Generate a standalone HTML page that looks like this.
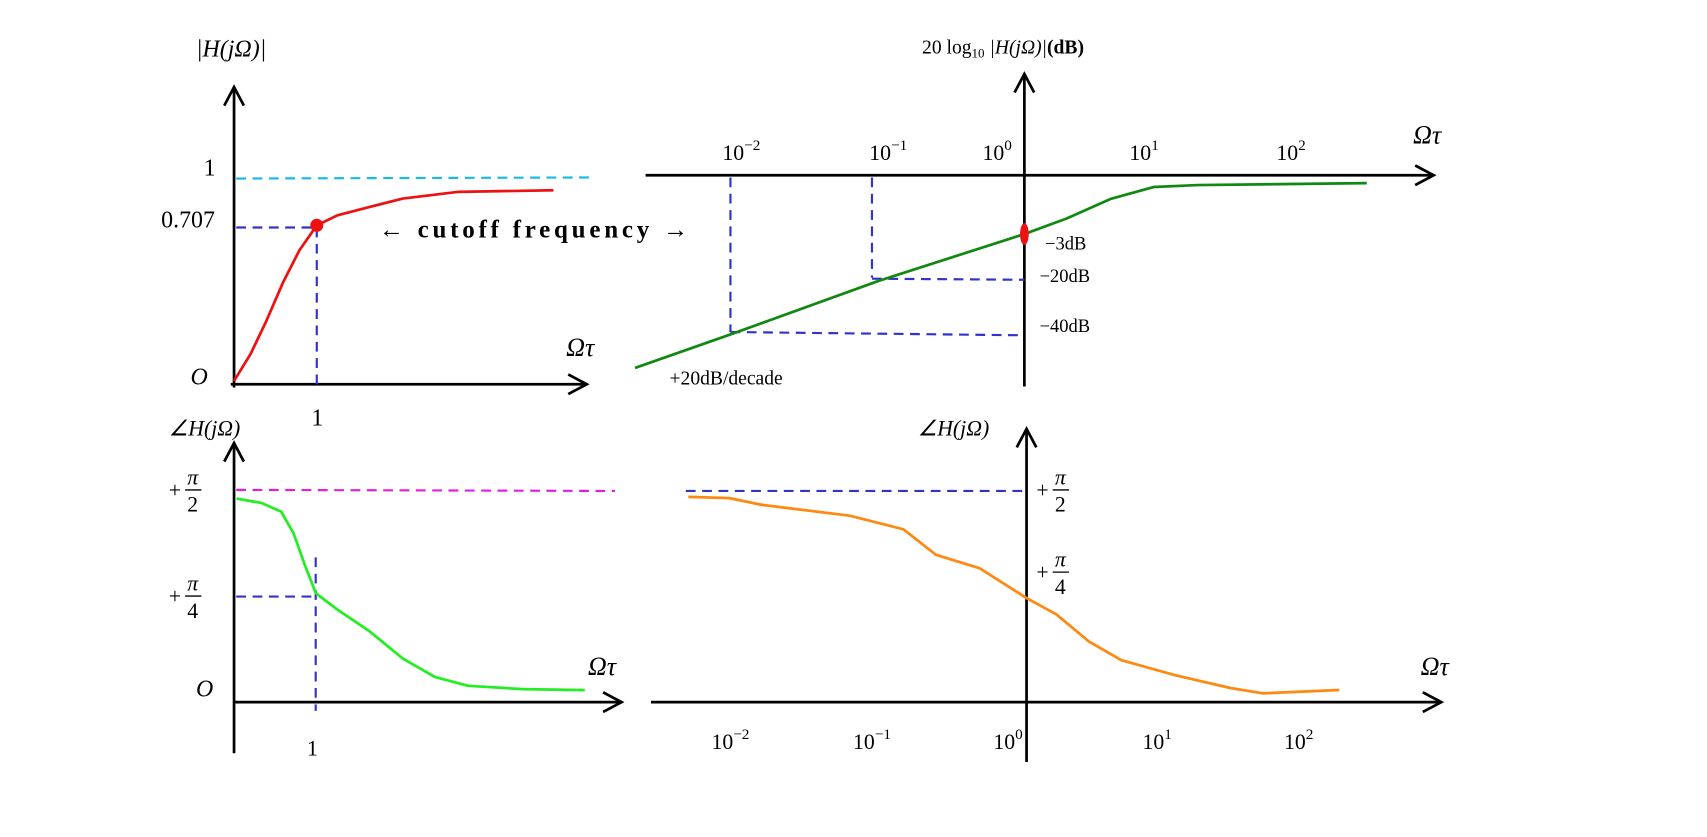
<!DOCTYPE html>
<html><head><meta charset="utf-8">
<style>
html,body{margin:0;padding:0;background:#fff;}
svg{display:block;font-family:"Liberation Serif",serif;}
</style></head>
<body>
<svg id="chart" width="1707" height="837" viewBox="0 0 1707 837">
<g transform="scale(1.0886)">
<g fill="none" stroke="#000" stroke-width="2.5">
  <line x1="215" y1="356" x2="215" y2="80"/>
  <polyline points="206,97 215,80 224,97"/>
  <line x1="212" y1="353" x2="538" y2="353"/>
  <polyline points="522,344 539,353 522,362"/>
  <line x1="941" y1="355" x2="941" y2="68"/>
  <polyline points="932,85 941,68 950,85"/>
  <line x1="593" y1="161" x2="1316" y2="161"/>
  <polyline points="1300,152 1317,161 1300,170"/>
  <line x1="215" y1="692" x2="215" y2="407"/>
  <polyline points="206,424 215,407 224,424"/>
  <line x1="215" y1="645" x2="570" y2="645"/>
  <polyline points="554,636 571,645 554,654"/>
  <line x1="943" y1="700" x2="943" y2="394"/>
  <polyline points="934,411 943,394 952,411"/>
  <line x1="598" y1="645" x2="1323" y2="645"/>
  <polyline points="1307,636 1324,645 1307,654"/>
</g>

<g stroke-width="2" stroke-dasharray="9,6" fill="none">
  <line x1="217" y1="164" x2="545" y2="163" stroke="#1ab8e8"/>
  <line x1="217" y1="209" x2="290" y2="209" stroke="#3333cc"/>
  <line x1="291" y1="209" x2="291" y2="353" stroke="#3333cc"/>
  <line x1="671" y1="163" x2="671" y2="305" stroke="#3333cc"/>
  <line x1="671" y1="305" x2="941" y2="308" stroke="#3333cc"/>
  <line x1="801" y1="163" x2="801" y2="255" stroke="#3333cc"/>
  <line x1="801" y1="256" x2="941" y2="257" stroke="#3333cc"/>
  <line x1="217" y1="450" x2="565" y2="451" stroke="#e020e0"/>
  <line x1="217" y1="548" x2="290" y2="548" stroke="#3333cc"/>
  <line x1="290" y1="512" x2="290" y2="653" stroke="#3333cc"/>
  <line x1="630" y1="451" x2="943" y2="451" stroke="#3333cc"/>
</g>

<g id="curves" fill="none" stroke-width="2.5" stroke-linejoin="round"></g>

<g fill="#000" font-size="22">
  <text x="180" y="52" font-style="italic">|H(jΩ)|</text>
  <text x="187" y="161">1</text>
  <text x="148" y="209">0.707</text>
  <text x="175" y="353" font-style="italic">O</text>
  <text x="520" y="327" font-size="24" font-style="italic">Ωτ</text>
  <text x="286" y="391">1</text>
  <text x="348" y="218" font-size="23" font-weight="bold" textLength="284" lengthAdjust="spacing">← cutoff frequency →</text>

  <text x="847" y="49" font-size="18">20 log<tspan font-size="12" dy="4">10</tspan><tspan dy="-4" font-style="italic"> |H(jΩ)|</tspan><tspan font-weight="bold">(dB)</tspan></text>
  <text x="1298" y="132" font-size="24" font-style="italic">Ωτ</text>
  <text x="960" y="229" font-size="17">−3dB</text>
  <text x="955" y="259" font-size="17">−20dB</text>
  <text x="955" y="305" font-size="17">−40dB</text>
  <text x="615" y="353" font-size="18">+20dB/decade</text>

  <text x="155" y="400" font-size="20" font-style="italic">∠H(jΩ)</text>
  <text x="180" y="640" font-style="italic">O</text>
  <text x="540" y="620" font-size="24" font-style="italic">Ωτ</text>
  <text x="282" y="694" font-size="20">1</text>
  <text x="843" y="400" font-size="20" font-style="italic">∠H(jΩ)</text>
  <text x="1305" y="620" font-size="24" font-style="italic">Ωτ</text>
</g>
<g id="fracs" font-size="20"></g>
<g id="ticks" font-size="20"></g>
</g>
</svg>
<script>
// ---- data ----
const magX = [0, 0.2, 0.39, 0.59, 0.79, 1.0, 1.25, 1.64, 2.04, 2.7, 3.86];
const magY = [0.015, 0.137, 0.285, 0.457, 0.604, 0.72, 0.78, 0.83, 0.88, 0.92, 0.93];
const dbLogX = [-2.65, -2, -1, 0, 0.29, 0.59, 0.88, 1.18, 2.33];
const dbY = [-55, -41, -21, -3, -2.2, -1.2, -0.6, -0.5, -0.4];
const phX = [0.03, 0.33, 0.57, 0.72, 0.86, 0.99, 1.25, 1.64, 2.04, 2.43, 2.83, 3.49, 4.24];
const phY = [1.507, 1.475, 1.41, 1.249, 1.007, 0.806, 0.685, 0.524, 0.322, 0.185, 0.121, 0.097, 0.089];
const phLogX = [-2.39, -2.10, -1.87, -1.25, -0.87, -0.64, -0.33, 0, 0.21, 0.44, 0.67, 1.05, 1.44, 1.67, 2.21];
const phLogY = [1.52, 1.51, 1.46, 1.38, 1.28, 1.09, 0.99, 0.77, 0.65, 0.45, 0.31, 0.20, 0.105, 0.065, 0.09];
const decadeExps = [-2, -1, 0, 1, 2];

// ---- axis functions ----
function piece(v, dom, rng){
  for(let i=0;i<dom.length-1;i++){
    const a=dom[i],b=dom[i+1];
    if((v>=Math.min(a,b)&&v<=Math.max(a,b))||i===dom.length-2||(i===0&&(a<b?v<a:v>a))){
      return rng[i]+(v-a)/(b-a)*(rng[i+1]-rng[i]);
    }
  }
}
const xLin = v => 215 + v*76;
const yMag = v => piece(v,[0,0.707,1],[353,209,164]);
const xDb = v => 941 + v*135;
const yDb = v => piece(v,[0,-3,-20,-40,-55],[161,215,256,305,338]);
const yPh = v => 645 - v*124.1;
const xPhLog = v => 943 + v*130;

const NS='http://www.w3.org/2000/svg';
const curves=document.getElementById('curves');
function poly(xs,ys,fx,fy,color,name){
  const p=document.createElementNS(NS,'polyline');
  p.setAttribute('points',xs.map((x,i)=>fx(x).toFixed(1)+','+fy(ys[i]).toFixed(1)).join(' '));
  p.setAttribute('stroke',color);
  
  
  curves.appendChild(p);
}
poly(magX,magY,xLin,yMag,'#ee1111','magnitude-linear-curve');
poly(dbLogX,dbY,xDb,yDb,'#118811','magnitude-db-curve');
poly(phX,phY,xLin,yPh,'#22ee22','phase-linear-curve');
poly(phLogX,phLogY,xPhLog,yPh,'#ff8811','phase-log-curve');

[[xLin(1),yMag(0.72)],[xDb(0),yDb(-3)]].forEach((c,i)=>{
  const e=document.createElementNS(NS,'ellipse');
  e.setAttribute('cx',c[0]);e.setAttribute('cy',c[1]);
  e.setAttribute('rx',i?4:6);e.setAttribute('ry',i?10:6);
  e.setAttribute('fill','#ee1111');
  
  
  curves.appendChild(e);
});

const ticks=document.getElementById('ticks');
function decLabel(x,y,e){
  const t=document.createElementNS(NS,'text');
  t.setAttribute('x',x);t.setAttribute('y',y);
  t.setAttribute('text-anchor','middle');
  t.innerHTML='10<tspan font-size="14" dy="-9">'+(e<0?'−'+(-e):e)+'</tspan>';
  
  
  ticks.appendChild(t);
}
decadeExps.forEach(e=>{
  decLabel(xDb(e)+(e===0?-25:e>0?-25:10),147,e);
  decLabel(xPhLog(e)+(e===0?-17:e>0?-10:-12),688,e);
});

const fr=document.getElementById('fracs');
function frac(x,y,den){
  const g=document.createElementNS(NS,'g');
  
  
  g.innerHTML='<text x="'+x+'" y="'+(y+7)+'">+</text><text x="'+(x+22)+'" y="'+(y-5)+'" text-anchor="middle" font-style="italic">π</text><line x1="'+(x+15)+'" y1="'+(y)+'" x2="'+(x+30)+'" y2="'+y+'" stroke="#000" stroke-width="1.2"/><text x="'+(x+22)+'" y="'+(y+20)+'" text-anchor="middle">'+den+'</text>';
  fr.appendChild(g);
}
frac(155,yPh(Math.PI/2),2);
frac(155,yPh(Math.PI/4),4);
frac(952,yPh(Math.PI/2),2);
frac(952,yPh(Math.PI/4)-22,4);
</script>
</body></html>
